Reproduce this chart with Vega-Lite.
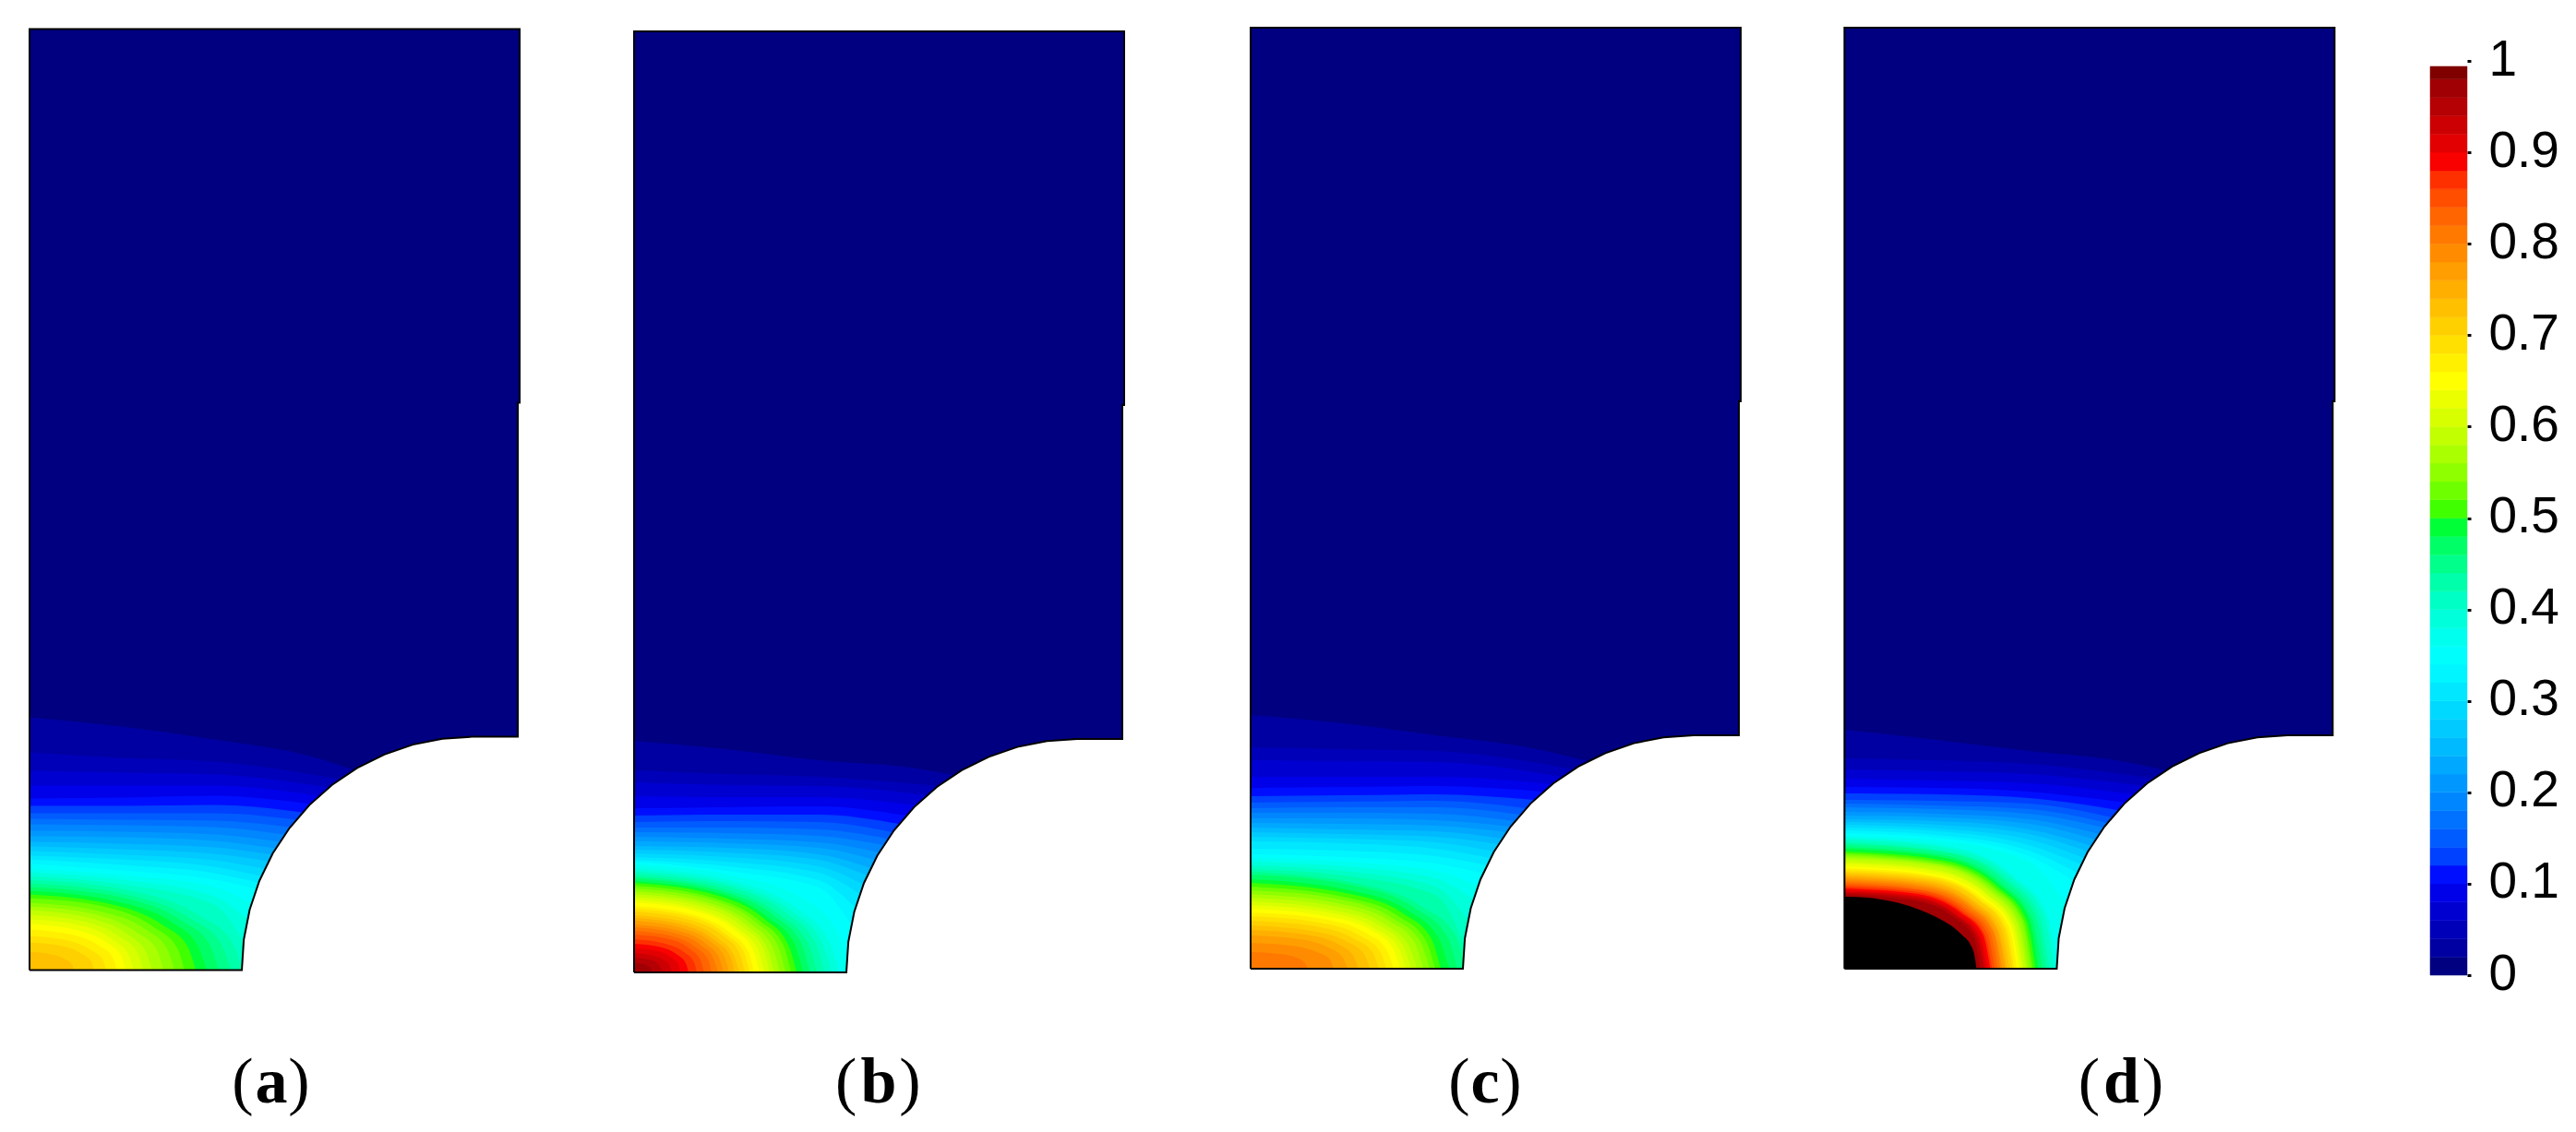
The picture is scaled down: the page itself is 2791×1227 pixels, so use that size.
{
"$schema":"https://vega.github.io/schema/vega-lite/v6.json",
"padding":0,
"spacing":0,
"background":"white",
"config":{"view":{"stroke":null},"concat":{"spacing":0}},
"datasets":{
"notch":[{"x":2.3,"y":0},{"x":2.3214,"y":0.33},{"x":2.3852,"y":0.655},{"x":2.4904,"y":0.968},{"x":2.635,"y":1.265},{"x":2.8166,"y":1.54},{"x":3.0322,"y":1.789},{"x":3.278,"y":2.008},{"x":3.55,"y":2.191},{"x":3.8433,"y":2.337},{"x":4.153,"y":2.444},{"x":4.4737,"y":2.508},{"x":4.8,"y":2.53},{"x":5.29,"y":2.53},{"x":5.29,"y":6.15},{"x":5.4,"y":6.15}],
"outline":[{"i":0,"x":0,"y":0},{"i":1,"x":2.3,"y":0},{"i":2,"x":2.3214,"y":0.33},{"i":3,"x":2.3852,"y":0.655},{"i":4,"x":2.4904,"y":0.968},{"i":5,"x":2.635,"y":1.265},{"i":6,"x":2.8166,"y":1.54},{"i":7,"x":3.0322,"y":1.789},{"i":8,"x":3.278,"y":2.008},{"i":9,"x":3.55,"y":2.191},{"i":10,"x":3.8433,"y":2.337},{"i":11,"x":4.153,"y":2.444},{"i":12,"x":4.4737,"y":2.508},{"i":13,"x":4.8,"y":2.53},{"i":14,"x":5.29,"y":2.53},{"i":15,"x":5.29,"y":6.15},{"i":16,"x":5.31,"y":6.15},{"i":17,"x":5.31,"y":10.2},{"i":18,"x":0,"y":10.2},{"i":19,"x":0,"y":0}],
"a":[
{"v":0,"x":0,"y":10.2},{"v":0,"x":5.31,"y":10.2},
{"v":0.03,"x":0,"y":2.74},{"v":0.03,"x":1,"y":2.64},{"v":0.03,"x":2,"y":2.5},{"v":0.03,"x":3,"y":2.33},{"v":0.03,"x":3.515,"y":2.17},
{"v":0.05,"x":0,"y":2.36},{"v":0.05,"x":1,"y":2.3},{"v":0.05,"x":2,"y":2.26},{"v":0.05,"x":3.36,"y":2.07},
{"v":0.07,"x":0,"y":2.16},{"v":0.07,"x":1,"y":2.14},{"v":0.07,"x":2,"y":2.12},{"v":0.07,"x":3.244,"y":1.98},
{"v":0.09,"x":0,"y":2},{"v":0.09,"x":1,"y":2},{"v":0.09,"x":2,"y":2},{"v":0.09,"x":3.13,"y":1.89},
{"v":0.11,"x":0,"y":1.86},{"v":0.11,"x":1,"y":1.87},{"v":0.11,"x":2,"y":1.89},{"v":0.11,"x":3.043,"y":1.8},
{"v":0.13,"x":0,"y":1.78},{"v":0.13,"x":1,"y":1.78},{"v":0.13,"x":2,"y":1.79},{"v":0.13,"x":2.96,"y":1.71},
{"v":0.15,"x":0,"y":1.7},{"v":0.15,"x":1,"y":1.7},{"v":0.15,"x":2,"y":1.7},{"v":0.15,"x":2.888,"y":1.63},
{"v":0.17,"x":0,"y":1.64},{"v":0.17,"x":1,"y":1.63},{"v":0.17,"x":2,"y":1.62},{"v":0.17,"x":2.82,"y":1.55},
{"v":0.19,"x":0,"y":1.58},{"v":0.19,"x":1,"y":1.57},{"v":0.19,"x":2,"y":1.55},{"v":0.19,"x":2.765,"y":1.47},
{"v":0.21,"x":0,"y":1.51},{"v":0.21,"x":1,"y":1.5},{"v":0.21,"x":2,"y":1.47},{"v":0.21,"x":2.71,"y":1.39},
{"v":0.23,"x":0,"y":1.45},{"v":0.23,"x":1,"y":1.44},{"v":0.23,"x":2,"y":1.4},{"v":0.23,"x":2.667,"y":1.32},
{"v":0.25,"x":0,"y":1.39},{"v":0.25,"x":1,"y":1.37},{"v":0.25,"x":2,"y":1.33},{"v":0.25,"x":2.63,"y":1.25},
{"v":0.27,"x":0,"y":1.34},{"v":0.27,"x":1,"y":1.31},{"v":0.27,"x":2,"y":1.26},{"v":0.27,"x":2.589,"y":1.18},
{"v":0.29,"x":0,"y":1.29},{"v":0.29,"x":1,"y":1.25},{"v":0.29,"x":2,"y":1.19},{"v":0.29,"x":2.55,"y":1.1},
{"v":0.31,"x":0,"y":1.24},{"v":0.31,"x":1,"y":1.2},{"v":0.31,"x":2,"y":1.12},{"v":0.31,"x":2.512,"y":1.02},
{"v":0.33,"x":0,"y":1.2},{"v":0.33,"x":1,"y":1.14},{"v":0.33,"x":2,"y":1.05},{"v":0.33,"x":2.48,"y":0.95},
{"v":0.35,"x":0,"y":1.15},{"v":0.35,"x":1,"y":1.08},{"v":0.35,"x":2,"y":0.98},{"v":0.35,"x":2.46,"y":0.88},
{"v":0.37,"x":0,"y":1.1},{"v":0.37,"x":1,"y":1.03},{"v":0.37,"x":2,"y":0.9},{"v":0.37,"x":2.41,"y":0.72},
{"v":0.39,"x":0,"y":1.06},{"v":0.39,"x":1,"y":0.98},{"v":0.39,"x":2,"y":0.8},{"v":0.39,"x":2.36,"y":0.55},
{"v":0.41,"x":0,"y":1.02},{"v":0.41,"x":1,"y":0.93},{"v":0.41,"x":2,"y":0.71},{"v":0.41,"x":2.32,"y":0.3},
{"v":0.43,"x":0,"y":0.98},{"v":0.43,"x":1.15,"y":0.85},{"v":0.43,"x":1.84,"y":0.59},{"v":0.43,"x":2.19,"y":0.31},{"v":0.43,"x":2.3,"y":0},
{"v":0.45,"x":0,"y":0.94},{"v":0.45,"x":1.09,"y":0.81},{"v":0.45,"x":1.74,"y":0.56},{"v":0.45,"x":2.07,"y":0.29},{"v":0.45,"x":2.18,"y":0},
{"v":0.47,"x":0,"y":0.9},{"v":0.47,"x":1.03,"y":0.78},{"v":0.47,"x":1.64,"y":0.54},{"v":0.47,"x":1.95,"y":0.28},{"v":0.47,"x":2.05,"y":0},
{"v":0.49,"x":0,"y":0.86},{"v":0.49,"x":0.96,"y":0.74},{"v":0.49,"x":1.54,"y":0.52},{"v":0.49,"x":1.82,"y":0.27},{"v":0.49,"x":1.92,"y":0},
{"v":0.51,"x":0,"y":0.82},{"v":0.51,"x":0.9,"y":0.71},{"v":0.51,"x":1.44,"y":0.49},{"v":0.51,"x":1.71,"y":0.26},{"v":0.51,"x":1.8,"y":0},
{"v":0.53,"x":0,"y":0.78},{"v":0.53,"x":0.84,"y":0.68},{"v":0.53,"x":1.34,"y":0.47},{"v":0.53,"x":1.6,"y":0.24},{"v":0.53,"x":1.68,"y":0},
{"v":0.55,"x":0,"y":0.73},{"v":0.55,"x":0.79,"y":0.63},{"v":0.55,"x":1.26,"y":0.44},{"v":0.55,"x":1.49,"y":0.23},{"v":0.55,"x":1.57,"y":0},
{"v":0.57,"x":0,"y":0.69},{"v":0.57,"x":0.73,"y":0.6},{"v":0.57,"x":1.16,"y":0.41},{"v":0.57,"x":1.38,"y":0.22},{"v":0.57,"x":1.45,"y":0},
{"v":0.59,"x":0,"y":0.65},{"v":0.59,"x":0.67,"y":0.56},{"v":0.59,"x":1.06,"y":0.39},{"v":0.59,"x":1.26,"y":0.2},{"v":0.59,"x":1.33,"y":0},
{"v":0.61,"x":0,"y":0.6},{"v":0.61,"x":0.62,"y":0.52},{"v":0.61,"x":0.98,"y":0.36},{"v":0.61,"x":1.17,"y":0.19},{"v":0.61,"x":1.23,"y":0},
{"v":0.63,"x":0,"y":0.55},{"v":0.63,"x":0.57,"y":0.48},{"v":0.63,"x":0.9,"y":0.33},{"v":0.63,"x":1.07,"y":0.17},{"v":0.63,"x":1.13,"y":0},
{"v":0.65,"x":0,"y":0.5},{"v":0.65,"x":0.52,"y":0.43},{"v":0.65,"x":0.83,"y":0.3},{"v":0.65,"x":0.99,"y":0.16},{"v":0.65,"x":1.04,"y":0},
{"v":0.67,"x":0,"y":0.44},{"v":0.67,"x":0.48,"y":0.38},{"v":0.67,"x":0.76,"y":0.26},{"v":0.67,"x":0.9,"y":0.14},{"v":0.67,"x":0.95,"y":0},
{"v":0.69,"x":0,"y":0.37},{"v":0.69,"x":0.42,"y":0.32},{"v":0.69,"x":0.66,"y":0.22},{"v":0.69,"x":0.79,"y":0.12},{"v":0.69,"x":0.83,"y":0},
{"v":0.71,"x":0,"y":0.3},{"v":0.71,"x":0.35,"y":0.26},{"v":0.71,"x":0.56,"y":0.18},{"v":0.71,"x":0.67,"y":0.09},{"v":0.71,"x":0.7,"y":0},
{"v":0.73,"x":0,"y":0.2},{"v":0.73,"x":0.24,"y":0.17},{"v":0.73,"x":0.38,"y":0.12},{"v":0.73,"x":0.46,"y":0.06},{"v":0.73,"x":0.48,"y":0}
],
"b":[
{"v":0,"x":0,"y":10.2},{"v":0,"x":5.31,"y":10.2},
{"v":0.03,"x":0,"y":2.51},{"v":0.03,"x":1,"y":2.42},{"v":0.03,"x":2,"y":2.3},{"v":0.03,"x":3,"y":2.22},{"v":0.03,"x":3.467,"y":2.14},
{"v":0.05,"x":0,"y":2.19},{"v":0.05,"x":1,"y":2.15},{"v":0.05,"x":2,"y":2.12},{"v":0.05,"x":3.3,"y":2.02},
{"v":0.07,"x":0,"y":2.06},{"v":0.07,"x":1,"y":2.03},{"v":0.07,"x":2,"y":2.02},{"v":0.07,"x":3.172,"y":1.92},
{"v":0.09,"x":0,"y":1.91},{"v":0.09,"x":1,"y":1.9},{"v":0.09,"x":2,"y":1.9},{"v":0.09,"x":3.05,"y":1.81},
{"v":0.11,"x":0,"y":1.78},{"v":0.11,"x":1,"y":1.79},{"v":0.11,"x":2,"y":1.8},{"v":0.11,"x":2.949,"y":1.7},
{"v":0.13,"x":0,"y":1.7},{"v":0.13,"x":1,"y":1.71},{"v":0.13,"x":2,"y":1.71},{"v":0.13,"x":2.87,"y":1.61},
{"v":0.15,"x":0,"y":1.63},{"v":0.15,"x":1,"y":1.64},{"v":0.15,"x":2,"y":1.63},{"v":0.15,"x":2.8,"y":1.52},
{"v":0.17,"x":0,"y":1.57},{"v":0.17,"x":1,"y":1.57},{"v":0.17,"x":2,"y":1.55},{"v":0.17,"x":2.75,"y":1.45},
{"v":0.19,"x":0,"y":1.52},{"v":0.19,"x":1,"y":1.51},{"v":0.19,"x":2,"y":1.48},{"v":0.19,"x":2.705,"y":1.38},
{"v":0.21,"x":0,"y":1.47},{"v":0.21,"x":1,"y":1.45},{"v":0.21,"x":2,"y":1.41},{"v":0.21,"x":2.655,"y":1.3},
{"v":0.23,"x":0,"y":1.42},{"v":0.23,"x":1,"y":1.4},{"v":0.23,"x":2,"y":1.35},{"v":0.23,"x":2.61,"y":1.22},
{"v":0.25,"x":0,"y":1.37},{"v":0.25,"x":1,"y":1.35},{"v":0.25,"x":2,"y":1.28},{"v":0.25,"x":2.565,"y":1.13},
{"v":0.27,"x":0,"y":1.33},{"v":0.27,"x":1,"y":1.3},{"v":0.27,"x":2,"y":1.22},{"v":0.27,"x":2.525,"y":1.05},
{"v":0.29,"x":0,"y":1.29},{"v":0.29,"x":1,"y":1.25},{"v":0.29,"x":2,"y":1.15},{"v":0.29,"x":2.485,"y":0.95},
{"v":0.31,"x":0,"y":1.25},{"v":0.31,"x":1,"y":1.2},{"v":0.31,"x":2,"y":1.08},{"v":0.31,"x":2.445,"y":0.85},
{"v":0.33,"x":0,"y":1.22},{"v":0.33,"x":1,"y":1.15},{"v":0.33,"x":2,"y":1},{"v":0.33,"x":2.4,"y":0.7},
{"v":0.35,"x":0,"y":1.2},{"v":0.35,"x":1,"y":1.1},{"v":0.35,"x":2,"y":0.92},{"v":0.35,"x":2.35,"y":0.52},
{"v":0.37,"x":0,"y":1.17},{"v":0.37,"x":1,"y":1.06},{"v":0.37,"x":1.8,"y":0.82},{"v":0.37,"x":2.2,"y":0.45},{"v":0.37,"x":2.32,"y":0.1},
{"v":0.39,"x":0,"y":1.13},{"v":0.39,"x":1.11,"y":0.98},{"v":0.39,"x":1.78,"y":0.68},{"v":0.39,"x":2.11,"y":0.35},{"v":0.39,"x":2.22,"y":0},
{"v":0.41,"x":0,"y":1.1},{"v":0.41,"x":1.07,"y":0.95},{"v":0.41,"x":1.71,"y":0.66},{"v":0.41,"x":2.03,"y":0.34},{"v":0.41,"x":2.14,"y":0},
{"v":0.43,"x":0,"y":1.07},{"v":0.43,"x":1.03,"y":0.93},{"v":0.43,"x":1.65,"y":0.64},{"v":0.43,"x":1.96,"y":0.33},{"v":0.43,"x":2.06,"y":0},
{"v":0.45,"x":0,"y":1.04},{"v":0.45,"x":0.99,"y":0.9},{"v":0.45,"x":1.58,"y":0.62},{"v":0.45,"x":1.88,"y":0.32},{"v":0.45,"x":1.98,"y":0},
{"v":0.47,"x":0,"y":1.02},{"v":0.47,"x":0.95,"y":0.88},{"v":0.47,"x":1.52,"y":0.61},{"v":0.47,"x":1.81,"y":0.32},{"v":0.47,"x":1.9,"y":0},
{"v":0.49,"x":0,"y":0.99},{"v":0.49,"x":0.92,"y":0.86},{"v":0.49,"x":1.46,"y":0.59},{"v":0.49,"x":1.74,"y":0.31},{"v":0.49,"x":1.83,"y":0},
{"v":0.51,"x":0,"y":0.97},{"v":0.51,"x":0.88,"y":0.84},{"v":0.51,"x":1.41,"y":0.58},{"v":0.51,"x":1.67,"y":0.3},{"v":0.51,"x":1.76,"y":0},
{"v":0.53,"x":0,"y":0.94},{"v":0.53,"x":0.85,"y":0.81},{"v":0.53,"x":1.36,"y":0.56},{"v":0.53,"x":1.62,"y":0.29},{"v":0.53,"x":1.7,"y":0},
{"v":0.55,"x":0,"y":0.91},{"v":0.55,"x":0.82,"y":0.79},{"v":0.55,"x":1.31,"y":0.55},{"v":0.55,"x":1.56,"y":0.28},{"v":0.55,"x":1.64,"y":0},
{"v":0.57,"x":0,"y":0.88},{"v":0.57,"x":0.79,"y":0.76},{"v":0.57,"x":1.26,"y":0.53},{"v":0.57,"x":1.5,"y":0.27},{"v":0.57,"x":1.58,"y":0},
{"v":0.59,"x":0,"y":0.85},{"v":0.59,"x":0.76,"y":0.74},{"v":0.59,"x":1.22,"y":0.51},{"v":0.59,"x":1.44,"y":0.27},{"v":0.59,"x":1.52,"y":0},
{"v":0.61,"x":0,"y":0.82},{"v":0.61,"x":0.74,"y":0.71},{"v":0.61,"x":1.18,"y":0.49},{"v":0.61,"x":1.4,"y":0.26},{"v":0.61,"x":1.47,"y":0},
{"v":0.63,"x":0,"y":0.79},{"v":0.63,"x":0.71,"y":0.68},{"v":0.63,"x":1.13,"y":0.47},{"v":0.63,"x":1.34,"y":0.25},{"v":0.63,"x":1.41,"y":0},
{"v":0.65,"x":0,"y":0.76},{"v":0.65,"x":0.68,"y":0.66},{"v":0.65,"x":1.09,"y":0.46},{"v":0.65,"x":1.29,"y":0.24},{"v":0.65,"x":1.36,"y":0},
{"v":0.67,"x":0,"y":0.72},{"v":0.67,"x":0.65,"y":0.62},{"v":0.67,"x":1.04,"y":0.43},{"v":0.67,"x":1.24,"y":0.22},{"v":0.67,"x":1.3,"y":0},
{"v":0.69,"x":0,"y":0.69},{"v":0.69,"x":0.63,"y":0.6},{"v":0.69,"x":1,"y":0.41},{"v":0.69,"x":1.19,"y":0.22},{"v":0.69,"x":1.25,"y":0},
{"v":0.71,"x":0,"y":0.66},{"v":0.71,"x":0.6,"y":0.57},{"v":0.71,"x":0.96,"y":0.4},{"v":0.71,"x":1.14,"y":0.21},{"v":0.71,"x":1.2,"y":0},
{"v":0.73,"x":0,"y":0.62},{"v":0.73,"x":0.57,"y":0.54},{"v":0.73,"x":0.91,"y":0.37},{"v":0.73,"x":1.08,"y":0.19},{"v":0.73,"x":1.14,"y":0},
{"v":0.75,"x":0,"y":0.59},{"v":0.75,"x":0.55,"y":0.51},{"v":0.75,"x":0.87,"y":0.35},{"v":0.75,"x":1.04,"y":0.18},{"v":0.75,"x":1.09,"y":0},
{"v":0.77,"x":0,"y":0.56},{"v":0.77,"x":0.52,"y":0.48},{"v":0.77,"x":0.82,"y":0.34},{"v":0.77,"x":0.98,"y":0.17},{"v":0.77,"x":1.03,"y":0},
{"v":0.79,"x":0,"y":0.52},{"v":0.79,"x":0.49,"y":0.45},{"v":0.79,"x":0.78,"y":0.31},{"v":0.79,"x":0.92,"y":0.16},{"v":0.79,"x":0.97,"y":0},
{"v":0.81,"x":0,"y":0.49},{"v":0.81,"x":0.46,"y":0.42},{"v":0.81,"x":0.73,"y":0.29},{"v":0.81,"x":0.86,"y":0.15},{"v":0.81,"x":0.91,"y":0},
{"v":0.83,"x":0,"y":0.45},{"v":0.83,"x":0.42,"y":0.39},{"v":0.83,"x":0.67,"y":0.27},{"v":0.83,"x":0.8,"y":0.14},{"v":0.83,"x":0.84,"y":0},
{"v":0.85,"x":0,"y":0.41},{"v":0.85,"x":0.38,"y":0.36},{"v":0.85,"x":0.61,"y":0.25},{"v":0.85,"x":0.72,"y":0.13},{"v":0.85,"x":0.76,"y":0},
{"v":0.87,"x":0,"y":0.36},{"v":0.87,"x":0.34,"y":0.31},{"v":0.87,"x":0.54,"y":0.22},{"v":0.87,"x":0.65,"y":0.11},{"v":0.87,"x":0.68,"y":0},
{"v":0.89,"x":0,"y":0.31},{"v":0.89,"x":0.3,"y":0.27},{"v":0.89,"x":0.47,"y":0.19},{"v":0.89,"x":0.56,"y":0.1},{"v":0.89,"x":0.59,"y":0},
{"v":0.91,"x":0,"y":0.26},{"v":0.91,"x":0.25,"y":0.23},{"v":0.91,"x":0.4,"y":0.16},{"v":0.91,"x":0.48,"y":0.08},{"v":0.91,"x":0.5,"y":0},
{"v":0.93,"x":0,"y":0.21},{"v":0.93,"x":0.21,"y":0.18},{"v":0.93,"x":0.33,"y":0.13},{"v":0.93,"x":0.39,"y":0.07},{"v":0.93,"x":0.41,"y":0},
{"v":0.95,"x":0,"y":0.16},{"v":0.95,"x":0.16,"y":0.14},{"v":0.95,"x":0.25,"y":0.1},{"v":0.95,"x":0.29,"y":0.05},{"v":0.95,"x":0.31,"y":0},
{"v":0.97,"x":0,"y":0.1},{"v":0.97,"x":0.1,"y":0.09},{"v":0.97,"x":0.16,"y":0.06},{"v":0.97,"x":0.19,"y":0.03},{"v":0.97,"x":0.2,"y":0}
],
"c":[
{"v":0,"x":0,"y":10.2},{"v":0,"x":5.31,"y":10.2},
{"v":0.03,"x":0,"y":2.75},{"v":0.03,"x":1,"y":2.66},{"v":0.03,"x":2,"y":2.53},{"v":0.03,"x":3,"y":2.4},{"v":0.03,"x":3.657,"y":2.25},
{"v":0.05,"x":0,"y":2.4},{"v":0.05,"x":1,"y":2.38},{"v":0.05,"x":2,"y":2.36},{"v":0.05,"x":3.5,"y":2.16},
{"v":0.07,"x":0,"y":2.26},{"v":0.07,"x":1,"y":2.25},{"v":0.07,"x":2,"y":2.24},{"v":0.07,"x":3.377,"y":2.08},
{"v":0.09,"x":0,"y":2.08},{"v":0.09,"x":1,"y":2.08},{"v":0.09,"x":2,"y":2.08},{"v":0.09,"x":3.27,"y":2},
{"v":0.11,"x":0,"y":1.96},{"v":0.11,"x":1,"y":1.97},{"v":0.11,"x":2,"y":1.98},{"v":0.11,"x":3.172,"y":1.92},
{"v":0.13,"x":0,"y":1.87},{"v":0.13,"x":1,"y":1.88},{"v":0.13,"x":2,"y":1.89},{"v":0.13,"x":3.07,"y":1.83},
{"v":0.15,"x":0,"y":1.8},{"v":0.15,"x":1,"y":1.81},{"v":0.15,"x":2,"y":1.82},{"v":0.15,"x":2.985,"y":1.74},
{"v":0.17,"x":0,"y":1.74},{"v":0.17,"x":1,"y":1.75},{"v":0.17,"x":2,"y":1.75},{"v":0.17,"x":2.92,"y":1.67},
{"v":0.19,"x":0,"y":1.69},{"v":0.19,"x":1,"y":1.69},{"v":0.19,"x":2,"y":1.68},{"v":0.19,"x":2.864,"y":1.6},
{"v":0.21,"x":0,"y":1.63},{"v":0.21,"x":1,"y":1.63},{"v":0.21,"x":2,"y":1.61},{"v":0.21,"x":2.815,"y":1.54},
{"v":0.23,"x":0,"y":1.58},{"v":0.23,"x":1,"y":1.57},{"v":0.23,"x":2,"y":1.55},{"v":0.23,"x":2.773,"y":1.48},
{"v":0.25,"x":0,"y":1.53},{"v":0.25,"x":1,"y":1.51},{"v":0.25,"x":2,"y":1.49},{"v":0.25,"x":2.73,"y":1.41},
{"v":0.27,"x":0,"y":1.48},{"v":0.27,"x":1,"y":1.46},{"v":0.27,"x":2,"y":1.43},{"v":0.27,"x":2.686,"y":1.35},
{"v":0.29,"x":0,"y":1.43},{"v":0.29,"x":1,"y":1.41},{"v":0.29,"x":2,"y":1.37},{"v":0.29,"x":2.64,"y":1.27},
{"v":0.31,"x":0,"y":1.38},{"v":0.31,"x":1,"y":1.36},{"v":0.31,"x":2,"y":1.3},{"v":0.31,"x":2.6,"y":1.2},
{"v":0.33,"x":0,"y":1.3},{"v":0.33,"x":1,"y":1.28},{"v":0.33,"x":2,"y":1.22},{"v":0.33,"x":2.56,"y":1.12},
{"v":0.35,"x":0,"y":1.24},{"v":0.35,"x":1,"y":1.21},{"v":0.35,"x":2,"y":1.14},{"v":0.35,"x":2.517,"y":1.03},
{"v":0.37,"x":0,"y":1.2},{"v":0.37,"x":1,"y":1.16},{"v":0.37,"x":2,"y":1.06},{"v":0.37,"x":2.46,"y":0.9},
{"v":0.39,"x":0,"y":1.16},{"v":0.39,"x":1,"y":1.11},{"v":0.39,"x":2,"y":0.98},{"v":0.39,"x":2.412,"y":0.75},
{"v":0.41,"x":0,"y":1.12},{"v":0.41,"x":1,"y":1.06},{"v":0.41,"x":2,"y":0.89},{"v":0.41,"x":2.36,"y":0.52},
{"v":0.43,"x":0,"y":1.08},{"v":0.43,"x":1,"y":1.01},{"v":0.43,"x":2,"y":0.8},{"v":0.43,"x":2.32,"y":0.25},
{"v":0.45,"x":0,"y":1.05},{"v":0.45,"x":1.17,"y":0.92},{"v":0.45,"x":1.86,"y":0.67},{"v":0.45,"x":2.22,"y":0.36},{"v":0.45,"x":2.33,"y":0},
{"v":0.47,"x":0,"y":1.02},{"v":0.47,"x":1.12,"y":0.9},{"v":0.47,"x":1.79,"y":0.65},{"v":0.47,"x":2.13,"y":0.35},{"v":0.47,"x":2.24,"y":0},
{"v":0.49,"x":0,"y":0.97},{"v":0.49,"x":1.08,"y":0.85},{"v":0.49,"x":1.72,"y":0.62},{"v":0.49,"x":2.04,"y":0.33},{"v":0.49,"x":2.15,"y":0},
{"v":0.51,"x":0,"y":0.93},{"v":0.51,"x":1.03,"y":0.82},{"v":0.51,"x":1.65,"y":0.6},{"v":0.51,"x":1.96,"y":0.32},{"v":0.51,"x":2.06,"y":0},
{"v":0.53,"x":0,"y":0.89},{"v":0.53,"x":1,"y":0.78},{"v":0.53,"x":1.6,"y":0.57},{"v":0.53,"x":1.9,"y":0.3},{"v":0.53,"x":2,"y":0},
{"v":0.55,"x":0,"y":0.85},{"v":0.55,"x":0.97,"y":0.75},{"v":0.55,"x":1.55,"y":0.54},{"v":0.55,"x":1.84,"y":0.29},{"v":0.55,"x":1.94,"y":0},
{"v":0.57,"x":0,"y":0.81},{"v":0.57,"x":0.94,"y":0.71},{"v":0.57,"x":1.5,"y":0.52},{"v":0.57,"x":1.78,"y":0.28},{"v":0.57,"x":1.87,"y":0},
{"v":0.59,"x":0,"y":0.77},{"v":0.59,"x":0.9,"y":0.68},{"v":0.59,"x":1.44,"y":0.49},{"v":0.59,"x":1.71,"y":0.26},{"v":0.59,"x":1.8,"y":0},
{"v":0.61,"x":0,"y":0.73},{"v":0.61,"x":0.87,"y":0.64},{"v":0.61,"x":1.39,"y":0.47},{"v":0.61,"x":1.65,"y":0.25},{"v":0.61,"x":1.74,"y":0},
{"v":0.63,"x":0,"y":0.69},{"v":0.63,"x":0.84,"y":0.61},{"v":0.63,"x":1.34,"y":0.44},{"v":0.63,"x":1.6,"y":0.23},{"v":0.63,"x":1.68,"y":0},
{"v":0.65,"x":0,"y":0.65},{"v":0.65,"x":0.81,"y":0.57},{"v":0.65,"x":1.3,"y":0.42},{"v":0.65,"x":1.54,"y":0.22},{"v":0.65,"x":1.62,"y":0},
{"v":0.67,"x":0,"y":0.61},{"v":0.67,"x":0.78,"y":0.54},{"v":0.67,"x":1.24,"y":0.39},{"v":0.67,"x":1.47,"y":0.21},{"v":0.67,"x":1.55,"y":0},
{"v":0.69,"x":0,"y":0.57},{"v":0.69,"x":0.74,"y":0.5},{"v":0.69,"x":1.18,"y":0.36},{"v":0.69,"x":1.4,"y":0.19},{"v":0.69,"x":1.47,"y":0},
{"v":0.71,"x":0,"y":0.52},{"v":0.71,"x":0.7,"y":0.46},{"v":0.71,"x":1.11,"y":0.33},{"v":0.71,"x":1.32,"y":0.18},{"v":0.71,"x":1.39,"y":0},
{"v":0.73,"x":0,"y":0.47},{"v":0.73,"x":0.65,"y":0.41},{"v":0.73,"x":1.03,"y":0.3},{"v":0.73,"x":1.23,"y":0.16},{"v":0.73,"x":1.29,"y":0},
{"v":0.75,"x":0,"y":0.42},{"v":0.75,"x":0.59,"y":0.37},{"v":0.75,"x":0.94,"y":0.27},{"v":0.75,"x":1.11,"y":0.14},{"v":0.75,"x":1.17,"y":0},
{"v":0.77,"x":0,"y":0.36},{"v":0.77,"x":0.53,"y":0.32},{"v":0.77,"x":0.84,"y":0.23},{"v":0.77,"x":1,"y":0.12},{"v":0.77,"x":1.05,"y":0},
{"v":0.79,"x":0,"y":0.28},{"v":0.79,"x":0.45,"y":0.25},{"v":0.79,"x":0.72,"y":0.18},{"v":0.79,"x":0.86,"y":0.1},{"v":0.79,"x":0.9,"y":0},
{"v":0.81,"x":0,"y":0.18},{"v":0.81,"x":0.31,"y":0.16},{"v":0.81,"x":0.5,"y":0.12},{"v":0.81,"x":0.59,"y":0.06},{"v":0.81,"x":0.62,"y":0}
],
"d":[
{"v":0,"x":0,"y":10.2},{"v":0,"x":5.31,"y":10.2},
{"v":0.03,"x":0,"y":2.59},{"v":0.03,"x":1,"y":2.48},{"v":0.03,"x":2,"y":2.36},{"v":0.03,"x":3,"y":2.25},{"v":0.03,"x":3.482,"y":2.15},
{"v":0.05,"x":0,"y":2.28},{"v":0.05,"x":1,"y":2.26},{"v":0.05,"x":2,"y":2.22},{"v":0.05,"x":3.36,"y":2.06},
{"v":0.07,"x":0,"y":2.16},{"v":0.07,"x":1,"y":2.14},{"v":0.07,"x":2,"y":2.11},{"v":0.07,"x":3.244,"y":1.98},
{"v":0.09,"x":0,"y":2.06},{"v":0.09,"x":1,"y":2.04},{"v":0.09,"x":2,"y":2.01},{"v":0.09,"x":3.14,"y":1.89},
{"v":0.11,"x":0,"y":1.97},{"v":0.11,"x":1,"y":1.96},{"v":0.11,"x":2,"y":1.92},{"v":0.11,"x":3.043,"y":1.8},
{"v":0.13,"x":0,"y":1.9},{"v":0.13,"x":1,"y":1.89},{"v":0.13,"x":2,"y":1.85},{"v":0.13,"x":2.96,"y":1.72},
{"v":0.15,"x":0,"y":1.83},{"v":0.15,"x":1,"y":1.82},{"v":0.15,"x":2,"y":1.79},{"v":0.15,"x":2.896,"y":1.64},
{"v":0.17,"x":0,"y":1.79},{"v":0.17,"x":1,"y":1.77},{"v":0.17,"x":2,"y":1.73},{"v":0.17,"x":2.85,"y":1.58},
{"v":0.19,"x":0,"y":1.75},{"v":0.19,"x":1,"y":1.73},{"v":0.19,"x":2,"y":1.68},{"v":0.19,"x":2.809,"y":1.53},
{"v":0.21,"x":0,"y":1.7},{"v":0.21,"x":1,"y":1.68},{"v":0.21,"x":2,"y":1.62},{"v":0.21,"x":2.76,"y":1.46},
{"v":0.23,"x":0,"y":1.66},{"v":0.23,"x":1,"y":1.64},{"v":0.23,"x":2,"y":1.57},{"v":0.23,"x":2.718,"y":1.4},
{"v":0.25,"x":0,"y":1.62},{"v":0.25,"x":1,"y":1.6},{"v":0.25,"x":2,"y":1.51},{"v":0.25,"x":2.68,"y":1.33},
{"v":0.27,"x":0,"y":1.59},{"v":0.27,"x":1,"y":1.56},{"v":0.27,"x":2,"y":1.46},{"v":0.27,"x":2.638,"y":1.27},
{"v":0.29,"x":0,"y":1.56},{"v":0.29,"x":1,"y":1.52},{"v":0.29,"x":2,"y":1.4},{"v":0.29,"x":2.6,"y":1.2},
{"v":0.31,"x":0,"y":1.53},{"v":0.31,"x":1,"y":1.49},{"v":0.31,"x":2,"y":1.34},{"v":0.31,"x":2.563,"y":1.13},
{"v":0.33,"x":0,"y":1.5},{"v":0.33,"x":1,"y":1.45},{"v":0.33,"x":2,"y":1.28},{"v":0.33,"x":2.52,"y":1.04},
{"v":0.35,"x":0,"y":1.47},{"v":0.35,"x":1,"y":1.42},{"v":0.35,"x":2,"y":1.22},{"v":0.35,"x":2.483,"y":0.95},
{"v":0.37,"x":0,"y":1.44},{"v":0.37,"x":1,"y":1.39},{"v":0.37,"x":2,"y":1.16},{"v":0.37,"x":2.4,"y":0.7},
{"v":0.39,"x":0,"y":1.42},{"v":0.39,"x":1.16,"y":1.32},{"v":0.39,"x":1.85,"y":0.99},{"v":0.39,"x":2.19,"y":0.6},{"v":0.39,"x":2.31,"y":0},
{"v":0.41,"x":0,"y":1.4},{"v":0.41,"x":1.14,"y":1.3},{"v":0.41,"x":1.82,"y":0.98},{"v":0.41,"x":2.16,"y":0.59},{"v":0.41,"x":2.27,"y":0},
{"v":0.43,"x":0,"y":1.37},{"v":0.43,"x":1.11,"y":1.27},{"v":0.43,"x":1.78,"y":0.96},{"v":0.43,"x":2.11,"y":0.58},{"v":0.43,"x":2.22,"y":0},
{"v":0.45,"x":0,"y":1.35},{"v":0.45,"x":1.09,"y":1.26},{"v":0.45,"x":1.74,"y":0.95},{"v":0.45,"x":2.07,"y":0.57},{"v":0.45,"x":2.18,"y":0},
{"v":0.47,"x":0,"y":1.32},{"v":0.47,"x":1.07,"y":1.23},{"v":0.47,"x":1.71,"y":0.92},{"v":0.47,"x":2.03,"y":0.55},{"v":0.47,"x":2.14,"y":0},
{"v":0.49,"x":0,"y":1.3},{"v":0.49,"x":1.05,"y":1.21},{"v":0.49,"x":1.68,"y":0.91},{"v":0.49,"x":2,"y":0.55},{"v":0.49,"x":2.1,"y":0},
{"v":0.51,"x":0,"y":1.27},{"v":0.51,"x":1.04,"y":1.18},{"v":0.51,"x":1.66,"y":0.89},{"v":0.51,"x":1.97,"y":0.53},{"v":0.51,"x":2.07,"y":0},
{"v":0.53,"x":0,"y":1.25},{"v":0.53,"x":1.02,"y":1.16},{"v":0.53,"x":1.63,"y":0.88},{"v":0.53,"x":1.94,"y":0.53},{"v":0.53,"x":2.04,"y":0},
{"v":0.55,"x":0,"y":1.23},{"v":0.55,"x":1.01,"y":1.14},{"v":0.55,"x":1.62,"y":0.86},{"v":0.55,"x":1.92,"y":0.52},{"v":0.55,"x":2.02,"y":0},
{"v":0.57,"x":0,"y":1.21},{"v":0.57,"x":1,"y":1.13},{"v":0.57,"x":1.59,"y":0.85},{"v":0.57,"x":1.89,"y":0.51},{"v":0.57,"x":1.99,"y":0},
{"v":0.59,"x":0,"y":1.19},{"v":0.59,"x":0.99,"y":1.11},{"v":0.59,"x":1.58,"y":0.83},{"v":0.59,"x":1.87,"y":0.5},{"v":0.59,"x":1.97,"y":0},
{"v":0.61,"x":0,"y":1.16},{"v":0.61,"x":0.97,"y":1.08},{"v":0.61,"x":1.55,"y":0.81},{"v":0.61,"x":1.84,"y":0.49},{"v":0.61,"x":1.94,"y":0},
{"v":0.63,"x":0,"y":1.14},{"v":0.63,"x":0.96,"y":1.06},{"v":0.63,"x":1.54,"y":0.8},{"v":0.63,"x":1.82,"y":0.48},{"v":0.63,"x":1.92,"y":0},
{"v":0.65,"x":0,"y":1.11},{"v":0.65,"x":0.95,"y":1.03},{"v":0.65,"x":1.51,"y":0.78},{"v":0.65,"x":1.8,"y":0.47},{"v":0.65,"x":1.89,"y":0},
{"v":0.67,"x":0,"y":1.09},{"v":0.67,"x":0.94,"y":1.01},{"v":0.67,"x":1.5,"y":0.76},{"v":0.67,"x":1.78,"y":0.46},{"v":0.67,"x":1.87,"y":0},
{"v":0.69,"x":0,"y":1.07},{"v":0.69,"x":0.92,"y":1},{"v":0.69,"x":1.47,"y":0.75},{"v":0.69,"x":1.75,"y":0.45},{"v":0.69,"x":1.84,"y":0},
{"v":0.71,"x":0,"y":1.05},{"v":0.71,"x":0.91,"y":0.98},{"v":0.71,"x":1.46,"y":0.74},{"v":0.71,"x":1.73,"y":0.44},{"v":0.71,"x":1.82,"y":0},
{"v":0.73,"x":0,"y":1.03},{"v":0.73,"x":0.9,"y":0.96},{"v":0.73,"x":1.43,"y":0.72},{"v":0.73,"x":1.7,"y":0.43},{"v":0.73,"x":1.79,"y":0},
{"v":0.75,"x":0,"y":1.01},{"v":0.75,"x":0.88,"y":0.94},{"v":0.75,"x":1.41,"y":0.71},{"v":0.75,"x":1.67,"y":0.42},{"v":0.75,"x":1.76,"y":0},
{"v":0.77,"x":0,"y":0.99},{"v":0.77,"x":0.87,"y":0.92},{"v":0.77,"x":1.39,"y":0.69},{"v":0.77,"x":1.65,"y":0.42},{"v":0.77,"x":1.74,"y":0},
{"v":0.79,"x":0,"y":0.97},{"v":0.79,"x":0.86,"y":0.9},{"v":0.79,"x":1.37,"y":0.68},{"v":0.79,"x":1.62,"y":0.41},{"v":0.79,"x":1.71,"y":0},
{"v":0.81,"x":0,"y":0.95},{"v":0.81,"x":0.85,"y":0.88},{"v":0.81,"x":1.35,"y":0.67},{"v":0.81,"x":1.61,"y":0.4},{"v":0.81,"x":1.69,"y":0},
{"v":0.83,"x":0,"y":0.93},{"v":0.83,"x":0.83,"y":0.86},{"v":0.83,"x":1.33,"y":0.65},{"v":0.83,"x":1.58,"y":0.39},{"v":0.83,"x":1.66,"y":0},
{"v":0.85,"x":0,"y":0.91},{"v":0.85,"x":0.82,"y":0.85},{"v":0.85,"x":1.3,"y":0.64},{"v":0.85,"x":1.55,"y":0.38},{"v":0.85,"x":1.63,"y":0},
{"v":0.87,"x":0,"y":0.89},{"v":0.87,"x":0.8,"y":0.83},{"v":0.87,"x":1.28,"y":0.62},{"v":0.87,"x":1.52,"y":0.37},{"v":0.87,"x":1.6,"y":0},
{"v":0.89,"x":0,"y":0.87},{"v":0.89,"x":0.79,"y":0.81},{"v":0.89,"x":1.26,"y":0.61},{"v":0.89,"x":1.5,"y":0.37},{"v":0.89,"x":1.58,"y":0},
{"v":0.91,"x":0,"y":0.85},{"v":0.91,"x":0.78,"y":0.79},{"v":0.91,"x":1.24,"y":0.6},{"v":0.91,"x":1.47,"y":0.36},{"v":0.91,"x":1.55,"y":0},
{"v":0.93,"x":0,"y":0.835},{"v":0.93,"x":0.77,"y":0.78},{"v":0.93,"x":1.22,"y":0.58},{"v":0.93,"x":1.45,"y":0.35},{"v":0.93,"x":1.53,"y":0},
{"v":0.95,"x":0,"y":0.82},{"v":0.95,"x":0.76,"y":0.76},{"v":0.95,"x":1.21,"y":0.57},{"v":0.95,"x":1.43,"y":0.34},{"v":0.95,"x":1.51,"y":0},
{"v":0.97,"x":0,"y":0.8},{"v":0.97,"x":0.74,"y":0.74},{"v":0.97,"x":1.18,"y":0.56},{"v":0.97,"x":1.4,"y":0.34},{"v":0.97,"x":1.47,"y":0},
{"v":1.2,"x":0,"y":0.78},{"v":1.2,"x":0.25,"y":0.77},{"v":1.2,"x":0.46,"y":0.74},{"v":1.2,"x":0.7,"y":0.68},{"v":1.2,"x":0.91,"y":0.6},{"v":1.2,"x":1.05,"y":0.53},{"v":1.2,"x":1.18,"y":0.45},{"v":1.2,"x":1.28,"y":0.36},{"v":1.2,"x":1.36,"y":0.27},{"v":1.2,"x":1.41,"y":0.14},{"v":1.2,"x":1.43,"y":0}
]
},
"hconcat":[
{"width":660,"height":1227,
"encoding":{"x":{"field":"x","type":"quantitative","axis":null,"scale":{"domain":[-0.32,6.28],"nice":false,"zero":false}},"y":{"field":"y","type":"quantitative","axis":null,"stack":null,"scale":{"domain":[-1.755,10.515],"nice":false,"zero":false}}},
"layer":[
{"data":{"name":"a"},"mark":{"type":"area","interpolate":"monotone"},"encoding":{"y2":{"datum":0},"color":{"field":"v","type":"quantitative","legend":null,"scale":{"domain":[0,0.108,0.345,0.5,0.65,0.885,1,1.01],"range":["#000080","#0000ff","#00ffff","#00ff00","#ffff00","#ff0000","#800000","#000000"]}}}},
{"data":{"name":"notch"},"mark":{"type":"area","color":"white"},"encoding":{"y2":{"datum":-0.04}}},
{"data":{"name":"outline"},"mark":{"type":"line","color":"black","strokeWidth":2},"encoding":{"order":{"field":"i"}}},
{"data":{"values":[{"x":2.31,"y":-1.435,"t":"("},{"x":2.92,"y":-1.435,"t":")"}]},"mark":{"type":"text","font":"Liberation Serif","fontSize":70,"baseline":"alphabetic","color":"black"},"encoding":{"text":{"field":"t"}}},
{"data":{"values":[{"x":2.62,"y":-1.435,"t":"a"}]},"mark":{"type":"text","font":"Liberation Serif","fontSize":70,"fontWeight":"bold","baseline":"alphabetic","color":"black"},"encoding":{"text":{"field":"t"}}}
]},
{"width":660,"height":1227,
"encoding":{"x":{"field":"x","type":"quantitative","axis":null,"scale":{"domain":[-0.27,6.33],"nice":false,"zero":false}},"y":{"field":"y","type":"quantitative","axis":null,"stack":null,"scale":{"domain":[-1.73,10.54],"nice":false,"zero":false}}},
"layer":[
{"data":{"name":"b"},"mark":{"type":"area","interpolate":"monotone"},"encoding":{"y2":{"datum":0},"color":{"field":"v","type":"quantitative","legend":null,"scale":{"domain":[0,0.108,0.345,0.5,0.65,0.885,1,1.01],"range":["#000080","#0000ff","#00ffff","#00ff00","#ffff00","#ff0000","#800000","#000000"]}}}},
{"data":{"name":"notch"},"mark":{"type":"area","color":"white"},"encoding":{"y2":{"datum":-0.04}}},
{"data":{"name":"outline"},"mark":{"type":"line","color":"black","strokeWidth":2},"encoding":{"order":{"field":"i"}}},
{"data":{"values":[{"x":2.296,"y":-1.41,"t":"("},{"x":2.99,"y":-1.41,"t":")"}]},"mark":{"type":"text","font":"Liberation Serif","fontSize":70,"baseline":"alphabetic","color":"black"},"encoding":{"text":{"field":"t"}}},
{"data":{"values":[{"x":2.65,"y":-1.41,"t":"b"}]},"mark":{"type":"text","font":"Liberation Serif","fontSize":70,"fontWeight":"bold","baseline":"alphabetic","color":"black"},"encoding":{"text":{"field":"t"}}}
]},
{"width":660,"height":1227,
"encoding":{"x":{"field":"x","type":"quantitative","axis":null,"scale":{"domain":[-0.35,6.25],"nice":false,"zero":false}},"y":{"field":"y","type":"quantitative","axis":null,"stack":null,"scale":{"domain":[-1.77,10.5],"nice":false,"zero":false}}},
"layer":[
{"data":{"name":"c"},"mark":{"type":"area","interpolate":"monotone"},"encoding":{"y2":{"datum":0},"color":{"field":"v","type":"quantitative","legend":null,"scale":{"domain":[0,0.108,0.345,0.5,0.65,0.885,1,1.01],"range":["#000080","#0000ff","#00ffff","#00ff00","#ffff00","#ff0000","#800000","#000000"]}}}},
{"data":{"name":"notch"},"mark":{"type":"area","color":"white"},"encoding":{"y2":{"datum":-0.04}}},
{"data":{"name":"outline"},"mark":{"type":"line","color":"black","strokeWidth":2},"encoding":{"order":{"field":"i"}}},
{"data":{"values":[{"x":2.26,"y":-1.45,"t":"("},{"x":2.82,"y":-1.45,"t":")"}]},"mark":{"type":"text","font":"Liberation Serif","fontSize":70,"baseline":"alphabetic","color":"black"},"encoding":{"text":{"field":"t"}}},
{"data":{"values":[{"x":2.54,"y":-1.45,"t":"c"}]},"mark":{"type":"text","font":"Liberation Serif","fontSize":70,"fontWeight":"bold","baseline":"alphabetic","color":"black"},"encoding":{"text":{"field":"t"}}}
]},
{"width":652,"height":1227,
"encoding":{"x":{"field":"x","type":"quantitative","axis":null,"scale":{"domain":[-0.184,6.336],"nice":false,"zero":false}},"y":{"field":"y","type":"quantitative","axis":null,"stack":null,"scale":{"domain":[-1.77,10.5],"nice":false,"zero":false}}},
"layer":[
{"data":{"name":"d"},"mark":{"type":"area","interpolate":"monotone"},"encoding":{"y2":{"datum":0},"color":{"field":"v","type":"quantitative","legend":null,"scale":{"domain":[0,0.108,0.345,0.5,0.65,0.885,1,1.01],"range":["#000080","#0000ff","#00ffff","#00ff00","#ffff00","#ff0000","#800000","#000000"]}}}},
{"data":{"name":"notch"},"mark":{"type":"area","color":"white"},"encoding":{"y2":{"datum":-0.04}}},
{"data":{"name":"outline"},"mark":{"type":"line","color":"black","strokeWidth":2},"encoding":{"order":{"field":"i"}}},
{"data":{"values":[{"x":2.65,"y":-1.45,"t":"("},{"x":3.34,"y":-1.45,"t":")"}]},"mark":{"type":"text","font":"Liberation Serif","fontSize":70,"baseline":"alphabetic","color":"black"},"encoding":{"text":{"field":"t"}}},
{"data":{"values":[{"x":3,"y":-1.45,"t":"d"}]},"mark":{"type":"text","font":"Liberation Serif","fontSize":70,"fontWeight":"bold","baseline":"alphabetic","color":"black"},"encoding":{"text":{"field":"t"}}}
]},
{"width":40,"height":1227,
"data":{"values":[{"lo":0,"hi":0.02,"m":0},{"lo":0.02,"hi":0.04,"m":0.03},{"lo":0.04,"hi":0.06,"m":0.05},{"lo":0.06,"hi":0.08,"m":0.07},{"lo":0.08,"hi":0.1,"m":0.09},{"lo":0.1,"hi":0.12,"m":0.11},{"lo":0.12,"hi":0.14,"m":0.13},{"lo":0.14,"hi":0.16,"m":0.15},{"lo":0.16,"hi":0.18,"m":0.17},{"lo":0.18,"hi":0.2,"m":0.19},{"lo":0.2,"hi":0.22,"m":0.21},{"lo":0.22,"hi":0.24,"m":0.23},{"lo":0.24,"hi":0.26,"m":0.25},{"lo":0.26,"hi":0.28,"m":0.27},{"lo":0.28,"hi":0.3,"m":0.29},{"lo":0.3,"hi":0.32,"m":0.31},{"lo":0.32,"hi":0.34,"m":0.33},{"lo":0.34,"hi":0.36,"m":0.35},{"lo":0.36,"hi":0.38,"m":0.37},{"lo":0.38,"hi":0.4,"m":0.39},{"lo":0.4,"hi":0.42,"m":0.41},{"lo":0.42,"hi":0.44,"m":0.43},{"lo":0.44,"hi":0.46,"m":0.45},{"lo":0.46,"hi":0.48,"m":0.47},{"lo":0.48,"hi":0.5,"m":0.49},{"lo":0.5,"hi":0.52,"m":0.51},{"lo":0.52,"hi":0.54,"m":0.53},{"lo":0.54,"hi":0.56,"m":0.55},{"lo":0.56,"hi":0.58,"m":0.57},{"lo":0.58,"hi":0.6,"m":0.59},{"lo":0.6,"hi":0.62,"m":0.61},{"lo":0.62,"hi":0.64,"m":0.63},{"lo":0.64,"hi":0.66,"m":0.65},{"lo":0.66,"hi":0.68,"m":0.67},{"lo":0.68,"hi":0.7,"m":0.69},{"lo":0.7,"hi":0.72,"m":0.71},{"lo":0.72,"hi":0.74,"m":0.73},{"lo":0.74,"hi":0.76,"m":0.75},{"lo":0.76,"hi":0.78,"m":0.77},{"lo":0.78,"hi":0.8,"m":0.79},{"lo":0.8,"hi":0.82,"m":0.81},{"lo":0.82,"hi":0.84,"m":0.83},{"lo":0.84,"hi":0.86,"m":0.85},{"lo":0.86,"hi":0.88,"m":0.87},{"lo":0.88,"hi":0.9,"m":0.89},{"lo":0.9,"hi":0.92,"m":0.91},{"lo":0.92,"hi":0.94,"m":0.93},{"lo":0.94,"hi":0.96,"m":0.95},{"lo":0.96,"hi":0.98,"m":0.97},{"lo":0.98,"hi":0.994,"m":1}]},
"mark":{"type":"rect","strokeWidth":0.5},
"encoding":{
"x":{"datum":0,"axis":null,"scale":{"domain":[0,1],"nice":false,"zero":false}},
"x2":{"datum":1},
"y":{"field":"lo","type":"quantitative","title":null,"scale":{"domain":[-0.1715,1.0666],"nice":false,"zero":false},"axis":{"orient":"right","values":[0,0.1,0.2,0.3,0.4,0.5,0.6,0.7,0.8,0.9,1],"format":"~g","domain":false,"grid":false,"tickSize":4,"tickWidth":3,"tickColor":"black","labelPadding":19,"labelOffset":-2,"labelFont":"Liberation Sans","labelFontSize":55,"labelColor":"black","labelFlush":false,"labelOverlap":false,"labelBound":false}},
"y2":{"field":"hi"},
"fill":{"field":"m","type":"quantitative","legend":null,"scale":{"domain":[0,0.108,0.345,0.5,0.65,0.885,1,1.01],"range":["#000080","#0000ff","#00ffff","#00ff00","#ffff00","#ff0000","#800000","#000000"]}},
"stroke":{"field":"m","type":"quantitative","legend":null,"scale":{"domain":[0,0.108,0.345,0.5,0.65,0.885,1,1.01],"range":["#000080","#0000ff","#00ffff","#00ff00","#ffff00","#ff0000","#800000","#000000"]}}
}}
]
}
